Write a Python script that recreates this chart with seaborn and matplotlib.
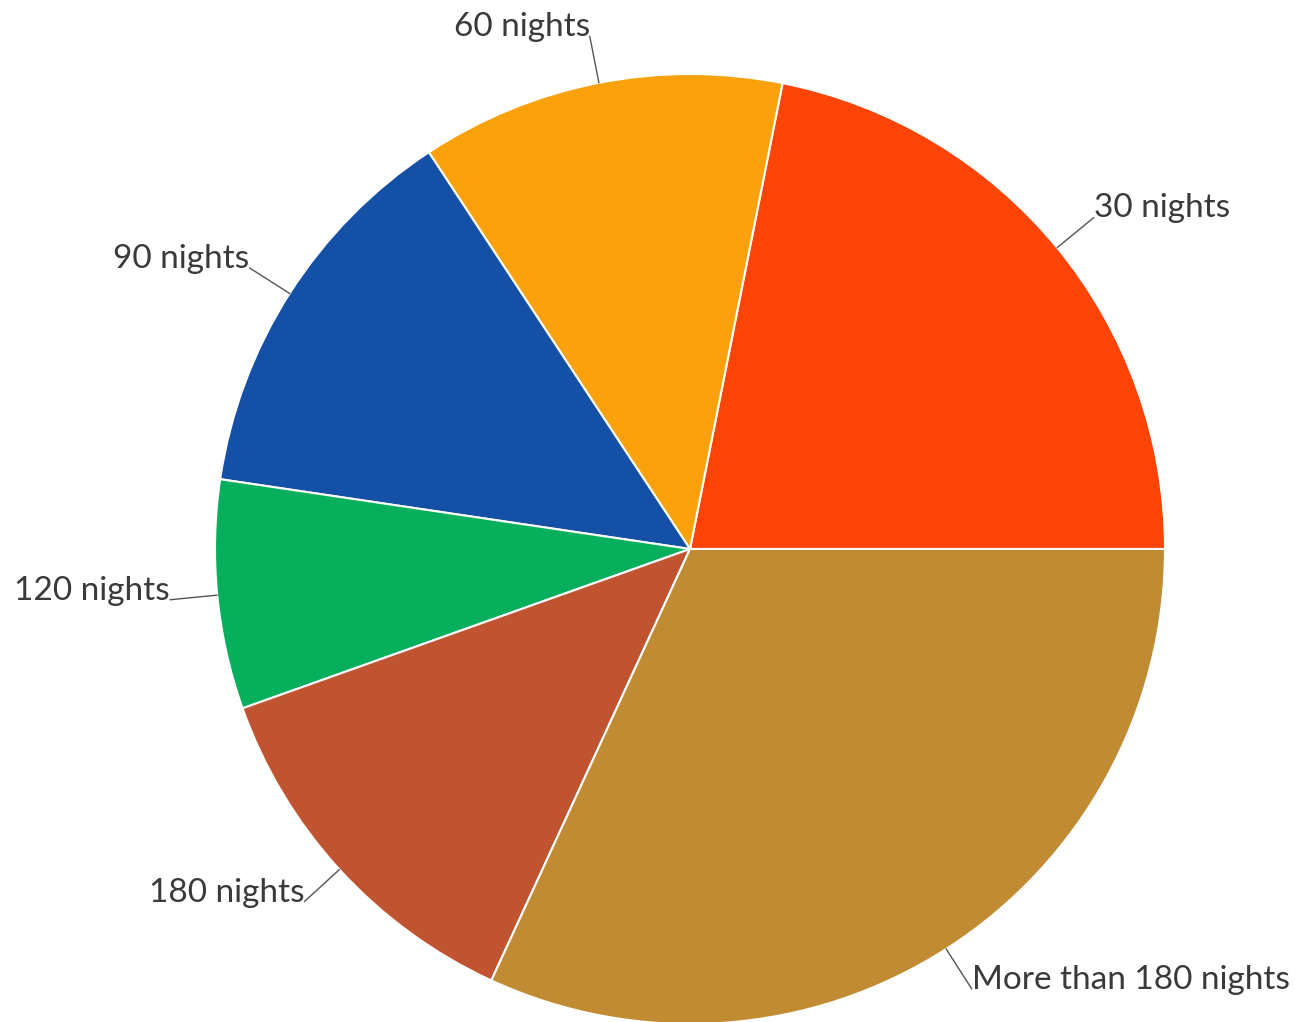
import matplotlib
matplotlib.use("Agg")
import matplotlib.pyplot as plt
import seaborn as sns
import numpy as np

# 数据
categories = ["30 nights", "60 nights", "90 nights", "120 nights",
              "180 nights", "More than 180 nights"]
shares = [21.9, 12.4, 13.4, 7.8, 12.7, 31.9]
colors = ["#FC4407", "#FBA10B", "#1450A5", "#06AF5B", "#C05431", "#C18B33"]

sns.set_theme(style="white")
plt.rcParams["font.family"] = ["Lato", "DejaVu Sans"]

fig = plt.figure(figsize=(12.95, 10.22), dpi=100)
ax = fig.add_axes([0, 0, 1, 1])

palette = sns.color_palette(colors)
wedges, _ = ax.pie(shares, colors=palette, startangle=0, counterclock=True,
                   radius=1.0,
                   wedgeprops=dict(edgecolor="white", linewidth=1.5))

# 标签 + 引导线
for w, label in zip(wedges, categories):
    mid = np.deg2rad((w.theta1 + w.theta2) / 2)
    x0, y0 = np.cos(mid), np.sin(mid)
    x1, y1 = 1.10 * x0, 1.10 * y0
    ax.plot([x0, x1], [y0, y1], color="#555555", lw=1.0)
    ha = "left" if x0 >= 0 else "right"
    ax.text(x1, y1, label, ha=ha, va="baseline", fontsize=24,
            color="#3a3a3a")

ax.set_xlim(-690 / 475, (1295 - 690) / 475)
ax.set_ylim((549 - 1022) / 475, 549 / 475)
ax.set_aspect("auto")
ax.axis("off")

fig.savefig("out.png", dpi=100)
